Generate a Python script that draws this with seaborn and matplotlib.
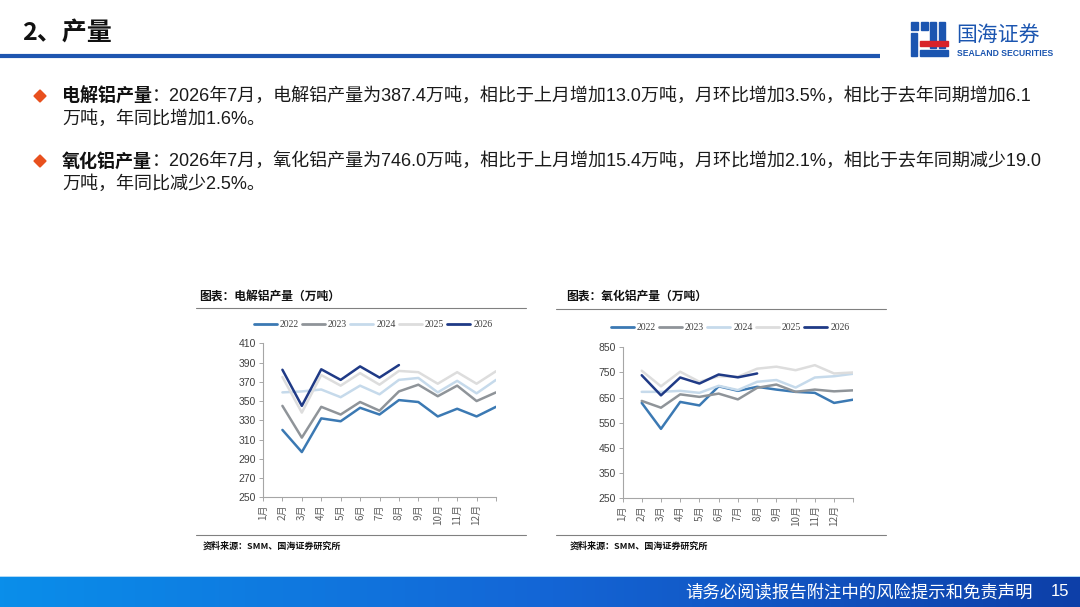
import numpy as np
import pandas as pd
import matplotlib
matplotlib.use("Agg")
import matplotlib.pyplot as plt
import seaborn as sns
from matplotlib.patches import Rectangle, Polygon
from matplotlib.colors import LinearSegmentedColormap

# ---------------- data ----------------
years = ["2022", "2023", "2024", "2025", "2026"]
month_labels = ["1月", "2月", "3月", "4月", "5月", "6月", "7月", "8月", "9月", "10月", "11月", "12月"]

# 电解铝产量 (万吨), Jan..Dec
al_2022 = [320, 297, 332, 329, 343, 336, 351, 349, 334, 342, 334, 344]
al_2023 = [345, 312, 344, 336, 349, 340, 360, 367, 355, 366, 350, 359]
al_2024 = [359, 360, 362, 354, 366, 357, 372, 374, 359, 371, 358, 372]
al_2025 = [375, 338, 377, 366, 379, 367, 381.3, 380, 368, 380, 368, 381]
al_2026 = [382.5, 345, 383, 372, 386, 374.4, 387.4]

# 氧化铝产量 (万吨), Jan..Dec
ao_2022 = [629, 526, 633, 619, 695, 677, 693, 682, 673, 669, 629, 642]
ao_2023 = [637, 610, 663, 653, 666, 643, 689, 702, 673, 682, 675, 679]
ao_2024 = [673, 673, 677, 669, 697, 680, 713, 720, 690, 730, 735, 745]
ao_2025 = [757, 695, 753, 713, 735, 733, 765, 773, 759, 779, 746, 750]
ao_2026 = [739, 659, 730, 706, 742, 730.6, 746.0]

al_ticks = [250, 270, 290, 310, 330, 350, 370, 390, 410]
ao_ticks = [250, 350, 450, 550, 650, 750, 850]

colors = {"2022": "#3B79B3", "2023": "#8F9499", "2024": "#C6DAEB",
          "2025": "#DDDDDD", "2026": "#1F3A86"}


def long_df(series):
    rows = []
    for y, vals in zip(years, series):
        for i, v in enumerate(vals):
            rows.append({"year": y, "pos": i + 1, "value": v})
    return pd.DataFrame(rows)


al_df = long_df([al_2022, al_2023, al_2024, al_2025, al_2026])
ao_df = long_df([ao_2022, ao_2023, ao_2024, ao_2025, ao_2026])

# ---------------- figure ----------------
sns.set_theme(style="white")
CJK = ["Noto Sans CJK SC", "DejaVu Sans"]
MIX = ["Liberation Sans", "Noto Sans CJK SC", "DejaVu Sans"]
plt.rcParams["font.family"] = CJK

W, H = 1080, 607
fig = plt.figure(figsize=(W / 100, H / 100), dpi=100)
fig.patch.set_facecolor("white")


def rect(x0, y0, x1, y1):
    return [x0 / W, 1 - y1 / H, (x1 - x0) / W, (y1 - y0) / H]


def fx(x):
    return x / W


def fy(y):
    return 1 - y / H


bg = fig.add_axes([0, 0, 1, 1], zorder=-5)
bg.set_xlim(0, W)
bg.set_ylim(H, 0)
bg.axis("off")

# title
fig.text(fx(22), fy(33), "2、产量", fontsize=18, fontweight="bold", color="#111111",
         va="center", ha="left", family=CJK)
bg.plot([0, 880], [56, 56], color="#1E56B0", lw=3.0, solid_capstyle="butt")

# logo
bg.add_patch(Rectangle((911, 22), 7, 8, color="#1B55B0"))
bg.add_patch(Rectangle((921, 22), 7, 8, color="#1B55B0"))
bg.add_patch(Rectangle((911, 33), 6, 23, color="#1B55B0"))
bg.add_patch(Rectangle((930, 22), 6, 26, color="#1B55B0"))
bg.add_patch(Rectangle((939, 22), 6, 26, color="#1B55B0"))
bg.add_patch(Rectangle((920, 41), 28, 5, color="#D8232A"))
bg.add_patch(Rectangle((920, 50), 28, 6, color="#1B55B0"))
fig.text(fx(956), fy(35), "国海证券", fontsize=15, fontweight="medium", color="#1B55B0",
         va="center", ha="left", family=CJK)
fig.text(fx(957), fy(53), "SEALAND SECURITIES", fontsize=6.2, fontweight="bold",
         color="#1B55B0", va="center", ha="left", family=["Liberation Sans", "DejaVu Sans"])

renderer = fig.canvas.get_renderer()


def bullet(y, bold, rest1, rest2):
    bg.add_patch(Polygon([[40, y - 6], [46, y], [40, y + 6], [34, y]], closed=True,
                         color="#E8501E"))
    t = fig.text(fx(62), fy(y), bold, fontsize=13, fontweight="bold", color="#111111",
                 va="center", ha="left", family=CJK)
    bb = t.get_window_extent(renderer=renderer)
    fig.text(bb.x1 / W, fy(y), rest1, fontsize=13, color="#1a1a1a",
             va="center", ha="left", family=MIX)
    fig.text(fx(62), fy(y + 23), rest2, fontsize=13, color="#1a1a1a",
             va="center", ha="left", family=MIX)


bullet(96, "电解铝产量",
       "：2026年7月，电解铝产量为387.4万吨，相比于上月增加13.0万吨，月环比增加3.5%，相比于去年同期增加6.1",
       "万吨，年同比增加1.6%。")
bullet(161, "氧化铝产量",
       "：2026年7月，氧化铝产量为746.0万吨，相比于上月增加15.4万吨，月环比增加2.1%，相比于去年同期减少19.0",
       "万吨，年同比减少2.5%。")


def panel(df, ticks, ax_box, title, title_xy, line_x, top_y, bot_y, legend_xy):
    ax = fig.add_axes(rect(*ax_box))
    sns.lineplot(data=df, x="pos", y="value", hue="year", hue_order=years,
                 palette=colors, linewidth=1.8, ax=ax, legend=False, sort=False)
    ax.set_xlim(0, 12)
    ax.set_ylim(ticks[0], ticks[-1])
    ax.set_yticks(ticks)
    ax.set_yticklabels([str(t) for t in ticks], family=["Liberation Sans", "DejaVu Sans"],
                       fontsize=7.5, color="#404040")
    ax.set_xticks(range(13))
    ax.set_xticklabels(month_labels + [""], rotation=90, fontsize=7.2, color="#606060",
                       family=CJK)
    ax.tick_params(axis="both", which="both", length=3, width=0.6, color="#999999",
                   direction="out", pad=2, left=True, bottom=True)
    for s in ["top", "right"]:
        ax.spines[s].set_visible(False)
    for s in ["left", "bottom"]:
        ax.spines[s].set_color("#A6A6A6")
        ax.spines[s].set_linewidth(0.8)
    ax.set_xlabel("")
    ax.set_ylabel("")
    ax.set_facecolor("none")
    ax.grid(False)
    handles = [plt.Line2D([0], [0], color=colors[y], lw=2) for y in years]
    leg = fig.legend(handles, years, loc="center",
                     bbox_to_anchor=(fx(legend_xy[0]), fy(legend_xy[1])),
                     ncol=5, frameon=False, handlelength=2.4, handletextpad=0.3,
                     columnspacing=0.3, prop={"family": "Liberation Serif", "size": 7})
    for txt in leg.get_texts():
        txt.set_color("#404040")
    fig.text(fx(title_xy[0]), fy(title_xy[1]), title, fontsize=8.5, fontweight="bold",
             color="#111111", va="center", ha="left", family=CJK)
    bg.plot(line_x, [top_y, top_y], color="#808080", lw=0.8)
    bg.plot(line_x, [bot_y, bot_y], color="#808080", lw=0.8)
    fig.text(fx(title_xy[0] + 4), fy(bot_y + 11), "资料来源：SMM、国海证券研究所", fontsize=6.5,
             fontweight="bold", color="#111111", va="center", ha="left", family=CJK)
    return ax


panel(al_df, al_ticks, (263, 343.3, 496, 497.3), "图表：电解铝产量（万吨）", (199, 297),
      [196, 526], 308, 535, (373, 325))
panel(ao_df, ao_ticks, (622.5, 347.3, 853.3, 498.3), "图表：氧化铝产量（万吨）", (566, 296),
      [556, 886], 309, 535, (730, 328))

# footer
fax = fig.add_axes(rect(0, 577, W, H), zorder=-4)
grad = np.linspace(0, 1, 256).reshape(1, -1)
cmap = LinearSegmentedColormap.from_list("foot", ["#0A8EEA", "#1466D6", "#0D3FA8"])
fax.imshow(grad, aspect="auto", cmap=cmap, extent=[0, 1, 0, 1])
fax.axis("off")
bg.plot([0, W], [577, 577], color="#9FD2F5", lw=1.2)
fig.text(fx(1033), fy(592), "请务必阅读报告附注中的风险提示和免责声明", fontsize=12.5,
         color="white", va="center", ha="right", family=CJK)
fig.text(fx(1060), fy(592), "15", fontsize=12, color="white", va="center", ha="center",
         family=["Liberation Sans", "DejaVu Sans"])

fig.savefig("out.png", dpi=100, facecolor="white")
